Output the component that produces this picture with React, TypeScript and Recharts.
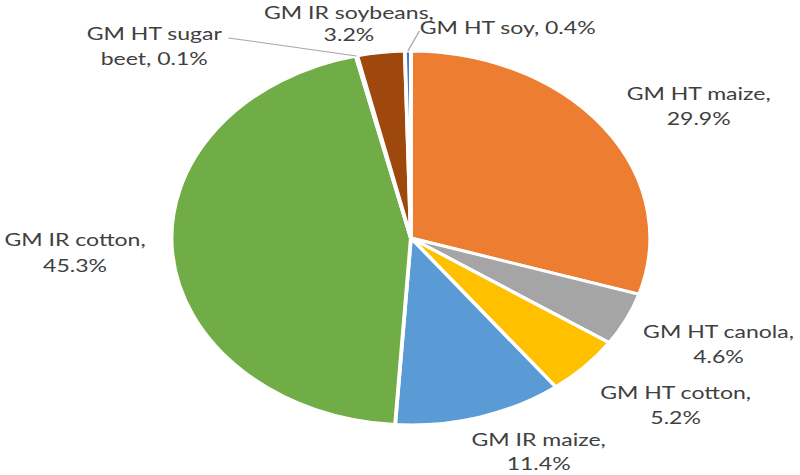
import React from 'react';
import { PieChart, Pie, Cell } from 'recharts';

const crops = [
  'GM HT maize',
  'GM HT canola',
  'GM HT cotton',
  'GM IR maize',
  'GM IR cotton',
  'GM HT sugar beet',
  'GM IR soybeans',
  'GM HT soy'
];
const shares = [29.9, 4.6, 5.2, 11.4, 45.3, 0.1, 3.2, 0.4];
const sliceColors = ['#ED7D31', '#A5A5A5', '#FFC000', '#5B9BD5', '#70AD47', '#264478', '#9E480E', '#4472C4'];
const labelLines = [
  ['GM HT maize,', '29.9%'],
  ['GM HT canola,', '4.6%'],
  ['GM HT cotton,', '5.2%'],
  ['GM IR maize,', '11.4%'],
  ['GM IR cotton,', '45.3%'],
  ['GM HT sugar', 'beet, 0.1%'],
  ['GM IR soybeans,', '3.2%'],
  ['GM HT soy, 0.4%']
];

const data = crops.map((name, i) => ({ name, value: shares[i] }));

// the reference is stretched sideways, so draw a round pie and stretch it
const STRETCH = 1.28;
const W = 625;
const H = 475;

// label centre offset from the slice's outer midpoint, plus optional leader line end
const nudges: { dx: number; dy: number; lh?: number; leader?: [number, number] }[] = [
  { dx: 74, dy: -22 },
  { dx: 72, dy: 24 },
  { dx: 71, dy: 38 },
  { dx: 46, dy: 34, lh: 24 },
  { dx: -76, dy: -1, lh: 26 },
  { dx: -158, dy: -10, leader: [-100, -18] },
  { dx: -25, dy: -29, lh: 22 },
  { dx: 78, dy: -24, leader: [9, -20] }
];

const RAD = Math.PI / 180;

const renderLabel = (props: any) => {
  const { cx, cy, midAngle, outerRadius, index } = props;
  const ex = cx + outerRadius * Math.cos(-midAngle * RAD);
  const ey = cy + outerRadius * Math.sin(-midAngle * RAD);
  const n = nudges[index];
  const x = ex + n.dx;
  const y = ey + n.dy;
  const lines = labelLines[index];
  const lh = n.lh ?? 25;
  const y0 = y - ((lines.length - 1) * lh) / 2;
  return (
    <g key={`lbl-${index}`}>
      {n.leader && (
        <line
          x1={ex}
          y1={ey}
          x2={ex + n.leader[0]}
          y2={ey + n.leader[1]}
          stroke="#A6A6A6"
          strokeWidth={1}
        />
      )}
      <text
        textAnchor="middle"
        fill="#404040"
        fontSize={18}
        fontFamily="Lato, 'Open Sans', sans-serif"
      >
        {lines.map((t, k) => (
          <tspan key={k} x={x} y={y0 + k * lh} dominantBaseline="central">
            {t}
          </tspan>
        ))}
      </text>
    </g>
  );
};

export default function App() {
  return (
    <div
      style={{
        position: 'absolute',
        left: 0,
        top: 0,
        width: W,
        height: H,
        background: '#fff',
        transform: `scaleX(${STRETCH})`,
        transformOrigin: '0 0'
      }}
    >
      <PieChart width={W} height={H} margin={{ top: 0, right: 0, bottom: 0, left: 0 }}>
        <Pie
          data={data}
          dataKey="value"
          nameKey="name"
          cx={321}
          cy={238}
          outerRadius={187}
          startAngle={90}
          endAngle={-270}
          stroke="#ffffff"
          strokeWidth={3}
          label={renderLabel}
          labelLine={false}
          isAnimationActive={false}
        >
          {data.map((d, i) => (
            <Cell key={d.name} fill={sliceColors[i]} />
          ))}
        </Pie>
      </PieChart>
    </div>
  );
}
